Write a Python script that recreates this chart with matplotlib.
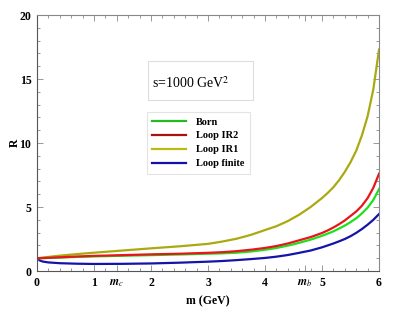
# R versus m for s = 1000 GeV^2 (Born and loop curves)
import matplotlib
matplotlib.use('Agg')
import matplotlib.pyplot as plt
from matplotlib.lines import Line2D
from matplotlib.patches import Rectangle

plt.rcParams['font.family'] = 'Liberation Serif'
plt.rcParams['mathtext.fontset'] = 'stix'

# quark masses marked on the axis
mc = 1.4
mb = 4.7

# values
m = [0, 0.05, 0.1, 0.2, 0.4, 0.7, 1.0, 1.5, 2.0, 2.5, 3.0, 3.25, 3.5, 3.75,
     4.0, 4.2, 4.4, 4.6, 4.8, 5.0, 5.1, 5.2, 5.3, 5.4, 5.5, 5.6, 5.7, 5.8,
     5.9, 6.0]
born = [1.0, 1.0, 1.01, 1.02, 1.05, 1.1, 1.14, 1.19, 1.24, 1.29, 1.35, 1.38,
        1.43, 1.52, 1.66, 1.8, 1.98, 2.2, 2.45, 2.75, 2.92, 3.1, 3.32, 3.55,
        3.82, 4.12, 4.5, 4.95, 5.55, 6.4]
loop_ir2 = [1.0, 1.0, 1.01, 1.03, 1.07, 1.13, 1.18, 1.24, 1.3, 1.35, 1.42,
            1.47, 1.55, 1.66, 1.8, 1.95, 2.15, 2.4, 2.65, 2.97, 3.17, 3.4,
            3.66, 3.95, 4.3, 4.65, 5.1, 5.7, 6.5, 7.6]
loop_ir1 = [1.0, 1.02, 1.05, 1.1, 1.2, 1.32, 1.43, 1.6, 1.77, 1.93, 2.12,
            2.3, 2.52, 2.82, 3.2, 3.5, 3.9, 4.4, 5.0, 5.7, 6.1, 6.55, 7.1,
            7.75, 8.5, 9.4, 10.6, 12.1, 14.2, 17.3]
loop_fin = [1.0, 0.82, 0.74, 0.67, 0.61, 0.57, 0.55, 0.56, 0.59, 0.65, 0.73,
            0.78, 0.85, 0.93, 1.02, 1.12, 1.25, 1.42, 1.6, 1.85, 2.0, 2.15,
            2.32, 2.5, 2.72, 2.98, 3.28, 3.62, 4.0, 4.45]

names = ['Born', 'Loop IR2', 'Loop IR1', 'Loop finite']
line_cols = ['#1ee01e', '#e8161a', '#aaaa10', '#1414a8']
leg_cols = ['#22bb22', '#aa1111', '#bbbb11', '#1111aa']

fig = plt.figure(figsize=(4.12, 3.1), dpi=100)
ax = fig.add_axes([0.0898, 0.1258, 0.8302, 0.8258])

# draw order: finite, IR1, Born, IR2 on top
ax.plot(m, loop_fin, color=line_cols[3], lw=1.6)
ax.plot(m, loop_ir1, color=line_cols[2], lw=1.6)
ax.plot(m, born, color=line_cols[0], lw=1.6)
ax.plot(m, loop_ir2, color=line_cols[1], lw=1.6)

ax.set_xlim(0, 6)
ax.set_ylim(0, 20)

ax.set_xticks([0, 1, mc, 2, 3, 4, mb, 5, 6])
ax.set_xticklabels(['0', '1', r'$\mathbfit{m}_c$', '2', '3', '4',
                    r'$\mathbfit{m}_b$', '5', '6'])
ax.set_xticks([i * 0.2 for i in range(31)], minor=True)
ax.set_yticks([0, 5, 10, 15, 20])
ax.set_yticks(range(21), minor=True)
for lab in ax.get_xticklabels() + ax.get_yticklabels():
    lab.set_fontweight('bold')
    lab.set_fontsize(8.5)

ax.tick_params(which='both', direction='in', top=True, right=True,
               color='#888888', width=0.6)
ax.tick_params(which='major', length=4, pad=4)
ax.tick_params(which='minor', length=2.2)
for s in ax.spines.values():
    s.set_color('#888888')
    s.set_linewidth(0.8)
ax.spines['left'].set_color('#555555')
ax.spines['bottom'].set_color('#555555')

ax.set_xlabel('m (GeV)', fontweight='bold', fontsize=8.5, labelpad=5)
ax.set_ylabel('R', fontweight='bold', fontsize=8.5, labelpad=-1)

# energy box
fig.patches.append(Rectangle((148 / 412, 1 - 100 / 310), 105 / 412, 39 / 310,
                             transform=fig.transFigure, fill=False,
                             edgecolor='#dddddd', lw=0.8))
fig.text(152 / 412, 1 - 83 / 310, r's=1000 GeV$^2$', fontsize=10,
         va='center', ha='left')

handles = [Line2D([], [], color=c, lw=1.6) for c in leg_cols]
leg = ax.legend(handles, names, loc='upper left',
                bbox_to_anchor=((147 - 37) / 342, (271 - 112) / 256),
                prop={'family': 'Liberation Serif', 'weight': 'bold', 'size': 7.5},
                frameon=True, fancybox=False, handlelength=3.2,
                handletextpad=1.0, labelspacing=0.45, borderpad=0.5,
                borderaxespad=0)
leg.get_frame().set_edgecolor('#dddddd')
leg.get_frame().set_linewidth(0.8)

fig.savefig('out.png', dpi=100)
